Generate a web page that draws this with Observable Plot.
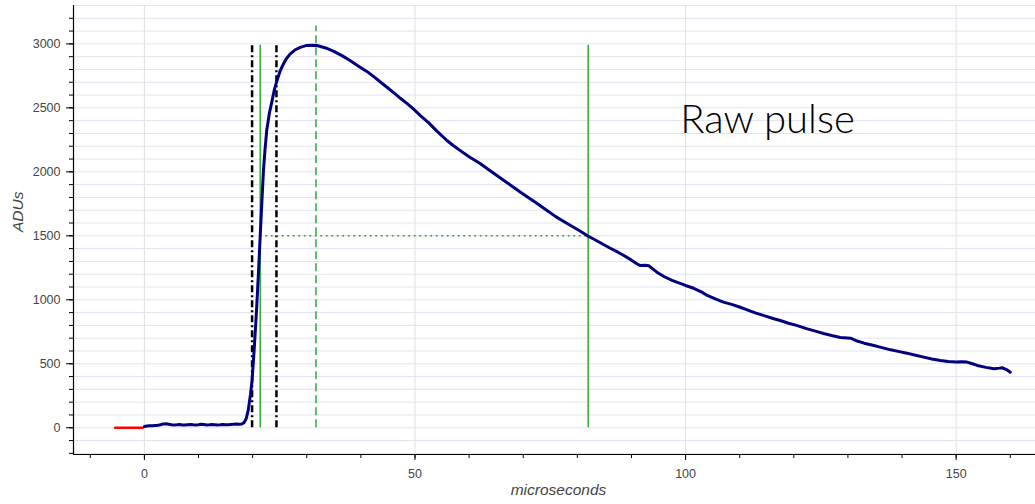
<!DOCTYPE html>
<html>
<head>
<meta charset="utf-8">
<script src="https://cdn.jsdelivr.net/npm/d3@7"></script>
<script src="https://cdn.jsdelivr.net/npm/@observablehq/plot@0.6"></script>
<style>
  html, body { margin: 0; padding: 0; background: #fff; }
  #chart { width: 1035px; height: 504px; }
</style>
</head>
<body>
<div id="chart"></div>
<script>
// ---- Data ----
const pulseTime = [0, 0.5, 1, 1.5, 2, 2.5, 3, 3.5, 4, 4.5, 5, 5.5, 6, 6.5, 7, 7.5, 8, 8.5, 9, 9.5,
  10, 10.5, 11, 11.5, 12, 12.5, 13, 13.5, 14, 14.5, 15, 15.5, 16, 16.5, 17, 17.5, 18, 18.4, 18.8, 19.2,
  19.6, 19.9, 20.3, 20.7, 21.1, 21.4, 21.7, 22.0, 22.3, 22.6, 23.1, 23.6, 24.0, 24.5, 25.1, 25.7, 26.3, 26.95,
  27.8, 28.8, 30.0, 31.0, 31.9, 33.5, 35.0, 36.5, 38.0, 39.5, 41.1, 42.5, 43.6, 45, 46.5, 47.3, 48.5, 49.7,
  51, 52.5, 54, 55.9, 57, 58.5, 60, 62.1, 63.5, 65, 66.5, 68.2, 69.5, 71, 72.5, 74.4, 76, 77.5, 79, 80.5,
  81.8, 83, 84.5, 86, 87.5, 88.6, 90, 91, 91.6, 92.5, 93.2, 94, 94.7, 96, 97.5, 99, 100, 101.5, 103, 104,
  105.5, 107, 108.5, 110.1, 111.5, 113, 114.5, 116.3, 117.5, 119, 120.5, 122.5, 124, 125.5, 127, 128.6,
  130.5, 131.7, 133, 134.8, 136.3, 137.9, 139.5, 140.9, 142.5, 144, 145.5, 147.1, 148.5, 150, 151, 152,
  153, 153.9, 155.5, 157, 158, 158.5, 159.3, 160];
const pulseAdu = [10, 14, 16, 15, 18, 20, 24, 30, 31, 28, 24, 22, 23, 25, 22, 21, 24, 26, 23, 22,
  24, 27, 25, 22, 23, 25, 24, 22, 23, 25, 24, 23, 26, 28, 29, 27, 30, 40, 70, 140,
  260, 370, 620, 900, 1229, 1500, 1760, 2010, 2180, 2323, 2460, 2557, 2640, 2713, 2790, 2844, 2888, 2922,
  2952, 2973, 2988, 2990, 2987, 2968, 2942, 2908, 2870, 2828, 2785, 2740, 2702, 2655, 2604, 2575, 2535, 2492,
  2440, 2385, 2320, 2245, 2208, 2162, 2118, 2063, 2020, 1975, 1930, 1880, 1840, 1797, 1755, 1698, 1650, 1612, 1575, 1537,
  1502, 1475, 1440, 1405, 1372, 1346, 1310, 1282, 1268, 1270, 1266, 1240, 1216, 1182, 1152, 1128, 1112, 1090, 1060, 1034,
  1007, 982, 964, 942, 920, 896, 876, 852, 838, 817, 800, 773, 755, 737, 721, 706,
  700, 678, 661, 643, 626, 609, 595, 583, 567, 552, 538, 526, 518, 513, 515, 513,
  500, 487, 472, 461, 466, 469, 455, 434];

const baselineTime = [-5.4, -0.3];
const baselineAdu = [0, 0];

const triggerTimes = [19.9, 24.4];      // black dash-dot markers
const markerTop = 2990;
const riseTime = 21.4;                  // green solid
const halfTime = 82.0;                  // green solid
const peakTime = 31.7;                  // green dashed
const peakLineTop = 3140;
const halfLevel = 1500;                 // green dotted

const annotations = [{label: "Raw pulse", x: 99, y: 2300}];

const xDomain = [-13.1, 164.66];
const yDomain = [-209, 3300];
const xMajor = [0, 50, 100, 150];
const xMinor = d3.range(-10, 161, 10);
const yMajor = d3.range(0, 3001, 500);
const yMinor = d3.range(-200, 3201, 100);
const yGrid = d3.range(-200, 3301, 100);

// ---- Build tables ----
const pulse = pulseTime.map((t, i) => ({t, v: pulseAdu[i]}));
const baseline = baselineTime.map((t, i) => ({t, v: baselineAdu[i]}));

const gridColor = "#e2e2f0";
const labelColor = "#444";
const green = "#33aa33";

const chart = Plot.plot({
  width: 1035,
  height: 504,
  marginLeft: 73,
  marginRight: 0,
  marginTop: 5,
  marginBottom: 50,
  style: {fontFamily: "'Liberation Sans', Arial, Helvetica, sans-serif", background: "#fff"},
  x: {domain: xDomain, axis: null},
  y: {domain: yDomain, axis: null},
  marks: [
    Plot.ruleY(yGrid, {stroke: gridColor, strokeWidth: 1}),
    Plot.ruleX(xMajor, {stroke: "#e0e0e8", strokeWidth: 1}),
    // axes lines
    Plot.ruleX([xDomain[0]], {stroke: "black", strokeWidth: 1.2}),
    Plot.ruleY([yDomain[0]], {stroke: "black", strokeWidth: 1.2}),
    // y ticks
    Plot.axisY({ticks: yMajor, tickSize: 7, text: null, label: null, stroke: "black"}),
    Plot.axisY({ticks: yMinor, tickSize: 4, text: null, label: null, stroke: "black"}),
    Plot.axisY({ticks: yMajor, tickSize: 0, tickPadding: 13, tickFormat: "d", label: null, fontSize: 12.5, color: labelColor}),
    // x ticks
    Plot.axisX({ticks: xMajor, tickSize: 6, text: null, label: null, stroke: "black"}),
    Plot.axisX({ticks: xMinor, tickSize: 4, text: null, label: null, stroke: "black"}),
    Plot.axisX({ticks: xMajor, tickSize: 0, tickPadding: 15, tickFormat: "d", label: null, fontSize: 12.5, color: labelColor}),
    // axis titles
    Plot.text(["ADUs"], {text: d => d, frameAnchor: "left", dx: -55, dy: 2, rotate: -90, fontStyle: "italic", fontSize: 15.5, fill: labelColor}),
    Plot.text(["microseconds"], {text: d => d, frameAnchor: "bottom", dx: 4, dy: 40, fontStyle: "italic", fontSize: 15.5, fill: labelColor}),
    // marker lines
    Plot.ruleX(triggerTimes, {x: d => d, y1: 0, y2: markerTop, stroke: "black", strokeWidth: 2.5, strokeDasharray: "7,3,2,3"}),
    Plot.ruleX([riseTime, halfTime], {x: d => d, y1: 0, y2: markerTop, stroke: green, strokeWidth: 1.5}),
    Plot.ruleX([peakTime], {x: d => d, y1: 0, y2: peakLineTop, stroke: green, strokeWidth: 1.5, strokeDasharray: "8,4"}),
    Plot.ruleY([halfLevel], {y: d => d, x1: riseTime, x2: halfTime, stroke: green, strokeWidth: 1.5, strokeDasharray: "2,3.5"}),
    // data
    Plot.line(baseline, {x: "t", y: "v", stroke: "red", strokeWidth: 2.5}),
    Plot.line(pulse, {x: "t", y: "v", stroke: "navy", strokeWidth: 3, curve: "linear"}),
    // annotation
    Plot.text(annotations, {x: "x", y: "y", text: "label", textAnchor: "start", lineAnchor: "bottom", fontSize: 40, fontFamily: "Lato", fontWeight: 300, fill: "black"})
  ]
});
document.getElementById("chart").appendChild(chart);
</script>
</body>
</html>
